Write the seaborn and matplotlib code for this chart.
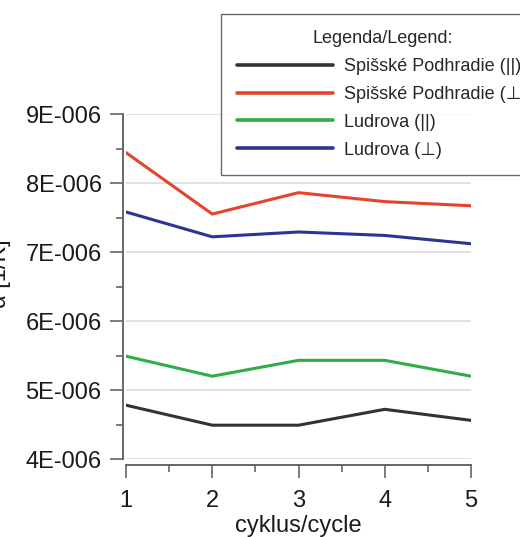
import numpy as np
import pandas as pd
import seaborn as sns
import matplotlib.pyplot as plt
from matplotlib.ticker import AutoMinorLocator, FuncFormatter, MultipleLocator

# data (values in units of 1E-006 1/K)
cycles = [1, 2, 3, 4, 5]
spis_par = [4.78, 4.49, 4.49, 4.72, 4.56]
spis_perp = [8.44, 7.55, 7.86, 7.73, 7.67]
ludr_par = [5.49, 5.20, 5.43, 5.43, 5.20]
ludr_perp = [7.58, 7.22, 7.29, 7.24, 7.12]

series_names = ["Spišské Podhradie (||)", "Spišské Podhradie (⊥)",
                "Ludrova (||)", "Ludrova (⊥)"]
colors = ["#333333", "#e2452b", "#2fae48", "#2c3494"]

df = pd.concat([
    pd.DataFrame({"cycle": cycles, "alpha": np.array(vals) * 1e-6, "series": name})
    for name, vals in zip(series_names, [spis_par, spis_perp, ludr_par, ludr_perp])
])

sns.set_style("white")
plt.rcParams['font.family'] = ['Liberation Sans', 'DejaVu Sans']

fig = plt.figure(figsize=(5.2, 5.37), dpi=100)
ax = fig.add_axes([126 / 520, 1 - 459 / 537, 345 / 520, 345 / 537])

sns.lineplot(data=df, x="cycle", y="alpha", hue="series", palette=colors,
             hue_order=series_names, linewidth=2.2, ax=ax, legend=True)

ax.set_xlim(1, 5)
ax.set_ylim(4e-6, 9e-6)
ax.xaxis.set_major_locator(MultipleLocator(1))
ax.yaxis.set_major_locator(MultipleLocator(1e-6))
ax.xaxis.set_minor_locator(AutoMinorLocator(2))
ax.yaxis.set_minor_locator(AutoMinorLocator(2))
ax.yaxis.set_major_formatter(FuncFormatter(lambda v, p: f"{int(round(v * 1e6))}E-006"))

ax.grid(axis="y", which="major", color="#dcdcdc", linewidth=1.2)
ax.set_axisbelow(True)
ax.tick_params(which="major", direction="out", length=9.5, width=1.2, color="#666666",
               labelsize=17, labelcolor="#1a1a1a", bottom=True, left=True)
ax.tick_params(axis="y", which="major", pad=6)
ax.tick_params(axis="x", which="major", pad=9)
ax.tick_params(which="minor", direction="out", length=5, width=1.2, color="#666666",
               bottom=True, left=True)
ax.set_xlabel("cyklus/cycle", fontsize=17, color="#1a1a1a", labelpad=2)
ax.set_ylabel("")

sns.despine(ax=ax, offset={"left": 2, "bottom": 4}, trim=True)
for s in ["left", "bottom"]:
    ax.spines[s].set_color("#666666")
    ax.spines[s].set_linewidth(1.4)

# y label mostly cut off at the left edge, as in the reference
fig.text(0.0, 0.49, "α [1/K]", rotation=90, ha="center", va="center",
         fontsize=17, color="#1a1a1a")

handles, labels = ax.get_legend_handles_labels()
ax.get_legend().remove()
leg = fig.legend(handles, labels, title="Legenda/Legend:", loc="upper left",
                 bbox_to_anchor=(221 / 520, 1 - 14 / 537), borderaxespad=0,
                 frameon=True, fontsize=13, title_fontsize=13, handlelength=5.3,
                 handletextpad=0.6, labelspacing=0.6, borderpad=0.9,
                 fancybox=False, edgecolor="#444444", alignment="center")
leg.get_frame().set_linewidth(1.0)
for line in leg.get_lines():
    line.set_linewidth(2.6)

fig.savefig("out.png", dpi=100)
